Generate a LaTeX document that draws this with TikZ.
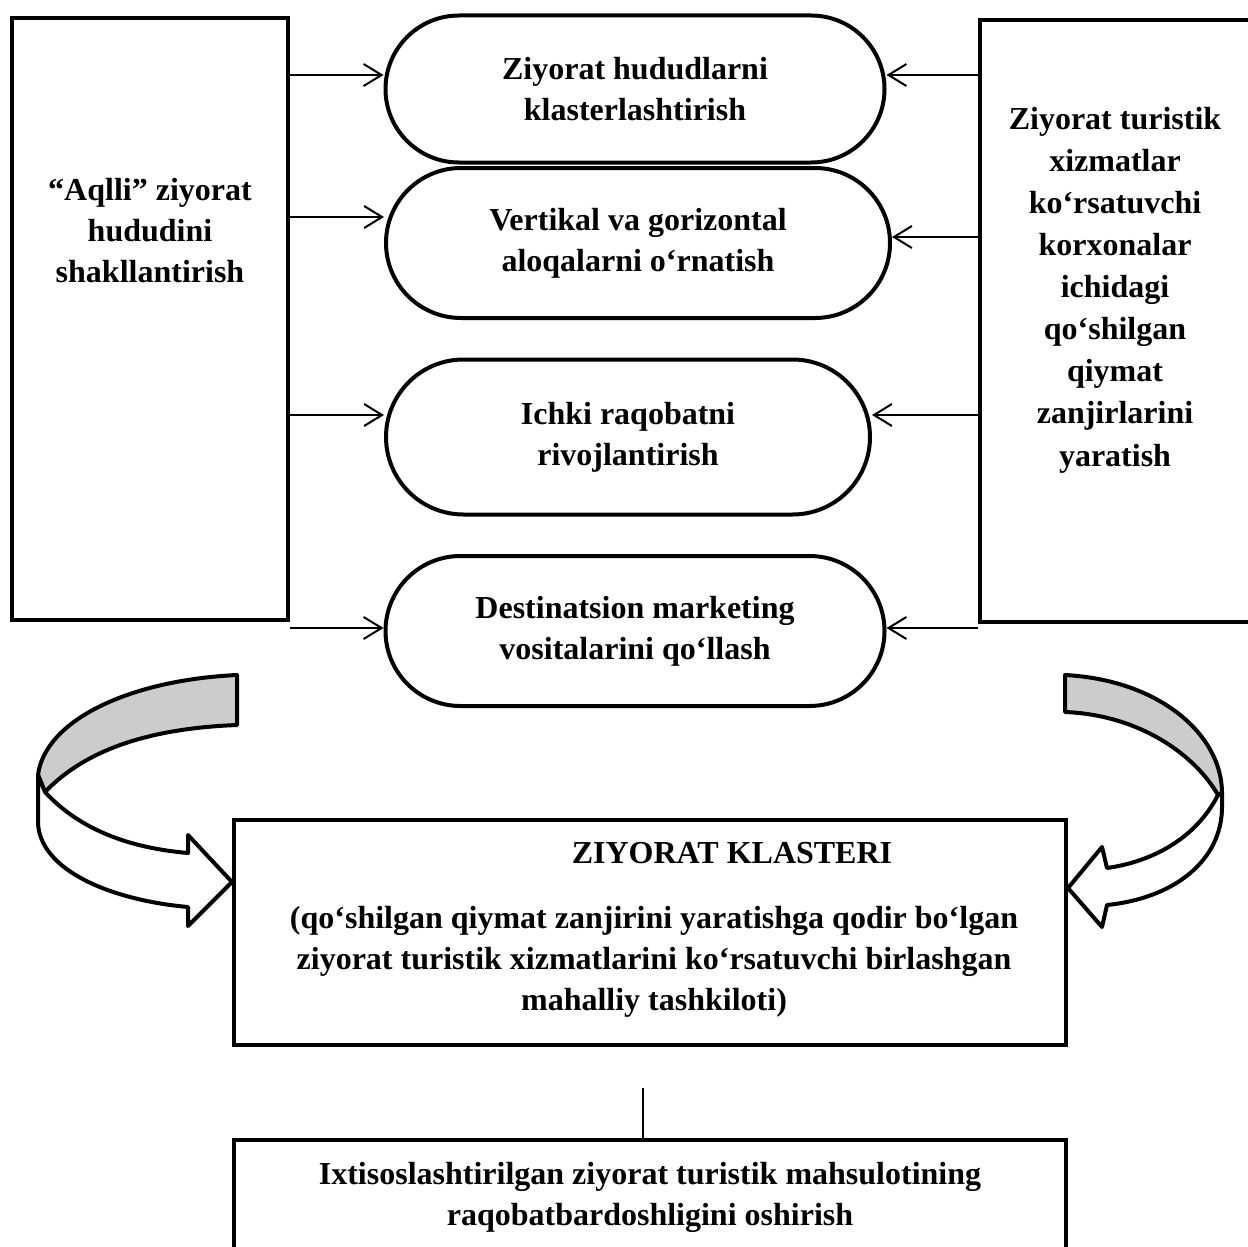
\documentclass[tikz,border=0pt]{standalone}
\usepackage{fontspec}
\setmainfont{Liberation Serif}
\usetikzlibrary{shapes.misc,arrows.meta}
\definecolor{bandgrey}{RGB}{204,204,204}
\begin{document}
\begin{tikzpicture}[x=1pt,y=-1pt,
  font=\fontsize{32}{41}\selectfont\bfseries,
  box/.style={draw,line width=4pt,inner sep=0pt},
  oval/.style={draw,rounded rectangle,line width=4pt,align=center,inner sep=0pt},
  txt/.style={align=center,inner sep=0pt},
  arr/.style={line width=2pt,-{Straight Barb[length=18pt,width=22pt,line width=2pt]}},
  band/.style={draw,line width=4pt,line join=round}]
\useasboundingbox (0,0) rectangle (1248,1247);
% side boxes
\node[box,minimum width=276pt,minimum height=602pt] (L) at (150,319) {};
\node[box,minimum width=320pt,minimum height=602pt,anchor=north west] (R) at (978,18) {};
\node[txt] (Lt) at (150,231) {“Aqlli” ziyorat\\hududini\\shakllantirish};
\node[txt,font=\fontsize{32}{42.1}\selectfont\bfseries] (Rt) at (1115,290)
  {Ziyorat turistik\\xizmatlar\\ko‘rsatuvchi\\korxonalar\\ichidagi\\qo‘shilgan\\qiymat\\zanjirlarini\\yaratish};
% stadiums
\node[oval,minimum width=499pt,minimum height=147pt] (S1) at (635,89) {Ziyorat hududlarni\\klasterlashtirish};
\node[oval,minimum width=504pt,minimum height=150pt] (S2) at (638,243) {Vertikal va gorizontal\\aloqalarni o‘rnatish};
\node[oval,minimum width=484pt,minimum height=155pt] (S3) at (628,437) {Ichki raqobatni\\rivojlantirish};
\node[oval,minimum width=499pt,minimum height=150pt] (S4) at (635,631) {Destinatsion marketing\\vositalarini qo‘llash};
% left arrows
\draw[arr] (L.east |- 0,75) -- (S1.west |- 0,75);
\draw[arr] (L.east |- 0,217) -- (S2.west |- 0,217);
\draw[arr] (L.east |- 0,415) -- (S3.west |- 0,415);
\draw[arr] (L.east |- 0,628) -- (S4.west |- 0,628);
% right arrows
\draw[arr] (R.west |- 0,75) -- (S1.east |- 0,75);
\draw[arr] (R.west |- 0,237) -- (S2.east |- 0,237);
\draw[arr] (R.west |- 0,415) -- (S3.east |- 0,415);
\draw[arr] (R.west |- 0,628) -- (S4.east |- 0,628);
% cluster box
\node[box,minimum width=832pt,minimum height=225pt] (K) at (650,932) {};
\node[txt] (Kt) at (732,853) {ZIYORAT KLASTERI};
\node[txt] (Kb) at (654,962) {(qo‘shilgan qiymat zanjirini yaratishga qodir bo‘lgan\\ziyorat turistik xizmatlarini ko‘rsatuvchi birlashgan\\mahalliy tashkiloti)};
% bottom box
\node[box,minimum width=832pt,minimum height=200pt,anchor=north] (B) at (650,1138) {};
\node[txt] (Bt) at (650,1197) {Ixtisoslashtirilgan ziyorat turistik mahsulotining\\raqobatbardoshligini oshirish};
\coordinate (v) at (643,1088);
\draw[line width=2pt] (v) -- (v |- B.north);
% left curved arrow
\draw[band,fill=bandgrey] (237,675) .. controls (130,680) and (45,720) .. (38,775)
  -- (45,792) .. controls (90,745) and (160,728) .. (237,725) -- cycle;
\draw[band,fill=white] (45,792) .. controls (80,830) and (130,848) .. (188,853)
  -- (188,835) -- (K.west |- 0,882) -- (188,926) -- (188,907)
  .. controls (110,900) and (40,870) .. (38,823) -- (38,775) -- cycle;
% right curved arrow
\draw[band,fill=bandgrey] (1065,675) .. controls (1160,680) and (1222,735) .. (1222,793)
  -- (1218,795) .. controls (1195,755) and (1140,715) .. (1065,712) -- cycle;
\draw[band,fill=white] (1218,795) .. controls (1195,840) and (1150,862) .. (1107,868)
  -- (1102,847) -- (K.east |- 0,888) -- (1102,927) -- (1107,905)
  .. controls (1175,898) and (1222,860) .. (1222,807) -- (1222,793) -- cycle;
\end{tikzpicture}
\end{document}
